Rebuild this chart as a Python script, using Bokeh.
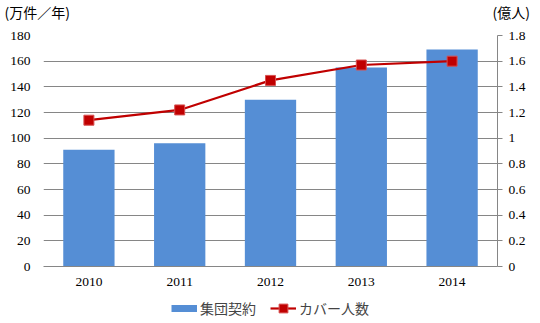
from bokeh.plotting import figure
from bokeh.layouts import column
from bokeh.models import ColumnDataSource, Range1d, LinearAxis, Legend, LegendItem, Label, Title, FixedTicker
from bokeh.embed import file_html
from bokeh.resources import INLINE

years = ["2010", "2011", "2012", "2013", "2014"]
contracts = [91, 96, 130, 155, 169]       # 集団契約 (万件/年)
covered = [1.14, 1.22, 1.45, 1.57, 1.60]  # カバー人数 (億人)

bar_name = "集団契約"
line_name = "カバー人数"
left_unit = "(万件／年)"
right_unit = "(億人)"

left_ticks = list(range(0, 181, 20))
right_ticks = [i / 10 for i in range(0, 19, 2)]

jp = "Noto Sans CJK JP"
serif = "Liberation Serif"
grid_col = "#868686"
bar_col = "#558ED5"
red = "#C00000"
red_edge = "#D85050"

W = 540
BL, BR = 43, 43

# --- main chart ---
src = ColumnDataSource(dict(x=years, c=contracts, p=covered))

p = figure(width=W, height=293, x_range=years, y_range=Range1d(0, 180),
           output_backend="svg", toolbar_location=None,
           min_border_left=BL, min_border_right=BR, min_border_top=35, min_border_bottom=27)
p.extra_y_ranges = {"r": Range1d(0, 1.8)}
p.outline_line_color = None

p.vbar(x="x", top="c", width=0.565, source=src, fill_color=bar_col, line_color=None)
p.line(x="x", y="p", source=src, y_range_name="r", line_color=red, line_width=2.2)
p.scatter(x="x", y="p", source=src, y_range_name="r", marker="square", size=10,
          fill_color=red, line_color=red_edge, line_width=1)

p.xgrid.grid_line_color = None
p.ygrid.grid_line_color = grid_col
p.ygrid.ticker = FixedTicker(ticks=left_ticks)

p.yaxis.ticker = FixedTicker(ticks=left_ticks)
p.yaxis.axis_line_color = None
p.yaxis.major_tick_line_color = None
p.yaxis.major_tick_out = 0
p.yaxis.major_tick_in = 0
p.yaxis.minor_tick_line_color = None
p.yaxis.major_label_text_font = serif
p.yaxis.major_label_text_font_size = "13.5px"
p.yaxis.major_label_text_color = "#000000"
p.yaxis.major_label_standoff = 13

p.xaxis.axis_line_color = grid_col
p.xaxis.major_tick_line_color = None
p.xaxis.major_tick_out = 0
p.xaxis.major_tick_in = 0
p.xaxis.minor_tick_line_color = None
p.xaxis.major_label_text_font = serif
p.xaxis.major_label_text_font_size = "13.5px"
p.xaxis.major_label_text_color = "#000000"
p.xaxis.major_label_standoff = 11

ra = LinearAxis(y_range_name="r", ticker=FixedTicker(ticks=right_ticks))
ra.axis_line_color = grid_col
ra.major_tick_line_color = grid_col
ra.major_tick_out = 5
ra.major_tick_in = 0
ra.minor_tick_line_color = None
ra.major_label_text_font = serif
ra.major_label_text_font_size = "13.5px"
ra.major_label_text_color = "#000000"
ra.major_label_standoff = 6
p.add_layout(ra, "right")

# unit texts in the top panel (not clipped there)
p.add_layout(Label(x=492 - BL, y=24, x_units="screen", y_units="screen", text=right_unit,
                   text_font=jp, text_font_size="14px", text_baseline="middle",
                   text_align="left", text_color="#000000"), "above")
p.add_layout(Title(text=left_unit, align="left", offset=-39, standoff=-12,
                   text_font=jp, text_font_size="14px", text_font_style="normal",
                   text_color="#000000"), "above")

# --- legend strip ---
bot = figure(width=W, height=30, x_range=Range1d(0, 1), y_range=Range1d(0, 1),
             output_backend="svg", toolbar_location=None,
             min_border_left=BL, min_border_right=BR, min_border_top=0, min_border_bottom=0)
bot.axis.visible = False
bot.grid.grid_line_color = None
bot.outline_line_color = None
k1 = bot.line(x=[0, 1], y=[-5, -5], line_color=bar_col, line_width=7, line_cap="butt")
k2 = bot.line(x=[0, 1], y=[-5, -5], line_color=red, line_width=2.2)
k3 = bot.scatter(x=[0], y=[-5], marker="square", size=10, fill_color=red,
                 line_color=red_edge, line_width=1)
legend = Legend(items=[LegendItem(label=bar_name, renderers=[k1]),
                       LegendItem(label=line_name, renderers=[k2, k3])],
                orientation="horizontal", location="center",
                label_text_font=jp, label_text_font_size="14px",
                border_line_color=None, background_fill_alpha=0,
                glyph_width=26, glyph_height=22, spacing=14, padding=3, margin=0,
                label_standoff=3)
bot.add_layout(legend, "center")

layout = column(p, bot, spacing=0)
open("out.html", "w").write(file_html(layout, INLINE))
